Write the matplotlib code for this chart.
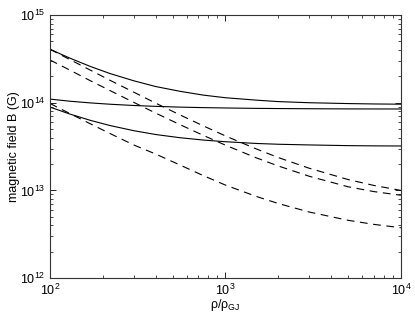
import matplotlib
matplotlib.use("Agg")
import matplotlib.pyplot as plt

plt.rcParams['font.family'] = ['Liberation Sans', 'DejaVu Sans']
plt.rcParams['mathtext.fontset'] = 'custom'
plt.rcParams['mathtext.rm'] = 'Liberation Sans'
plt.rcParams['mathtext.it'] = 'Liberation Sans:italic'
plt.rcParams['mathtext.default'] = 'regular'

# rho / rho_GJ sample points
rho = [100, 130, 170, 220, 300, 400, 550, 750, 1000, 1500, 2000, 3000, 5000, 7000, 10000]

# solid curves
solid_top = [4.07e14, 3.22e14, 2.59e14, 2.15e14, 1.78e14, 1.53e14, 1.35e14, 1.22e14,
             1.14e14, 1.07e14, 1.03e14, 1.0e14, 9.78e13, 9.68e13, 9.62e13]
solid_mid = [1.10e14, 1.04e14, 9.95e13, 9.61e13, 9.30e13, 9.09e13, 8.91e13, 8.79e13,
             8.71e13, 8.62e13, 8.58e13, 8.54e13, 8.50e13, 8.49e13, 8.48e13]
solid_low = [8.91e13, 7.42e13, 6.29e13, 5.49e13, 4.80e13, 4.34e13, 3.99e13, 3.75e13,
             3.59e13, 3.43e13, 3.36e13, 3.30e13, 3.24e13, 3.22e13, 3.21e13]

# dashed curves
dash_top = [4.07e14, 3.10e14, 2.35e14, 1.80e14, 1.32e14, 9.9e13, 7.27e13, 5.43e13,
            4.18e13, 2.97e13, 2.37e13, 1.79e13, 1.33e13, 1.14e13, 1.00e13]
dash_mid = [3.07e14, 2.35e14, 1.78e14, 1.375e14, 1.01e14, 7.62e13, 5.63e13, 4.23e13,
            3.28e13, 2.35e13, 1.90e13, 1.45e13, 1.10e13, 9.7e12, 8.8e12]
dash_low = [9.8e13, 7.51e13, 5.74e13, 4.45e13, 3.3e13, 2.6e13, 1.95e13, 1.47e13,
            1.15e13, 8.53e12, 7.09e12, 5.67e12, 4.56e12, 4.1e12, 3.75e12]

fig = plt.figure(figsize=(4.15, 3.2), dpi=100)
ax = fig.add_axes([0.1205, 0.131, 0.8455, 0.822])

for ys in [solid_top, solid_mid, solid_low]:
    ax.plot(rho, ys, color='black', linewidth=0.8)
for ys in [dash_top, dash_mid, dash_low]:
    ax.plot(rho, ys, color='black', linewidth=0.8, linestyle=(0, (7, 5)))

ax.set_xscale('log')
ax.set_yscale('log')
ax.set_xlim(1e2, 1e4)
ax.set_ylim(1e12, 1e15)
ax.set_xticks([1e2, 1e3, 1e4])
ax.set_yticks([1e12, 1e13, 1e14, 1e15])

ax.tick_params(which='both', direction='in', top=True, right=True, labelsize=9)
ax.tick_params(which='major', length=4, width=0.6)
ax.tick_params(which='minor', length=2, width=0.5)
for s in ax.spines.values():
    s.set_linewidth(0.8)
    s.set_color('#333333')

ax.set_xlabel(r'$\rho/\rho_{GJ}$', fontsize=9, labelpad=-1)
ax.set_ylabel('magnetic field B (G)', fontsize=9, labelpad=0)

fig.savefig('out.png', dpi=100)
